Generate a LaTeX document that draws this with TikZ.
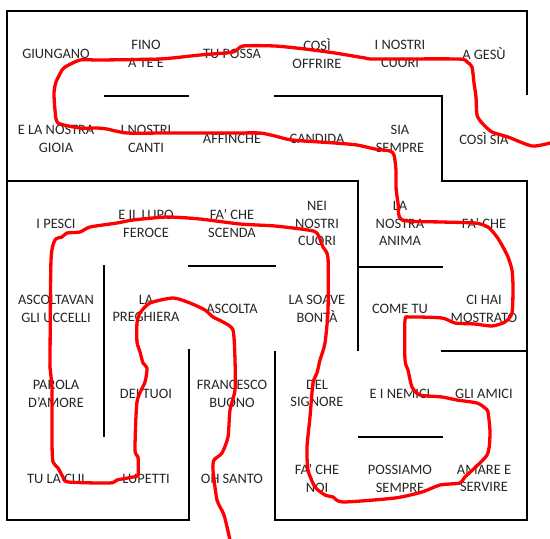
\documentclass[tikz,border=0pt]{standalone}
\usepackage{fontspec}
\setmainfont{Carlito}
\begin{document}
\begin{tikzpicture}[x=1pt,y=-1pt,
  wall/.style={line width=1.8pt, line cap=rect, black},
  route/.style={draw=red, line width=3.3pt, line join=round, line cap=round},
  word/.style={align=center, inner sep=0pt, font=\fontsize{14.4}{17.8}\selectfont, text=black!85}]
\useasboundingbox[fill=white] (0,0) rectangle (550,539);
% walls
\draw[wall] (527,94) -- (527,11) -- (7,11) -- (7,520) -- (189,520) -- (189,350);
\draw[wall] (275,352) -- (275,520) -- (527,520) -- (527,181) -- (442,181) -- (442,96) -- (275,96);
\draw[wall] (105,96) -- (188,96);
\draw[wall] (7,181) -- (358,181) -- (358,350);
\draw[wall] (104,266) -- (104,436);
\draw[wall] (189,266) -- (275,266);
\draw[wall] (358,267) -- (442,267);
\draw[wall] (442,351) -- (527,351);
\draw[wall] (359,437) -- (442,437);
% texts
\node[word] (c00) at (56,53.5) {GIUNGANO};
\node[word] (c01) at (146,53.5) {FINO\\A TE E};
\node[word] (c02) at (232,53.5) {TU POSSA};
\node[word] (c03) at (317,53.5) {COSÌ\\OFFRIRE};
\node[word] (c04) at (400,53.5) {I NOSTRI\\CUORI};
\node[word] (c05) at (484,53.5) {A GESÙ};
\node[word] (c10) at (56,138.5) {E LA NOSTRA\\GIOIA};
\node[word] (c11) at (146,138.5) {I NOSTRI\\CANTI};
\node[word] (c12) at (232,138.5) {AFFINCHE};
\node[word] (c13) at (317,138.5) {CANDIDA};
\node[word] (c14) at (400,138.5) {SIA\\SEMPRE};
\node[word] (c15) at (484,138.5) {COSÌ SIA};
\node[word] (c20) at (56,223.5) {I PESCI};
\node[word] (c21) at (146,223.5) {E IL LUPO\\FEROCE};
\node[word] (c22) at (232,223.5) {FA' CHE\\SCENDA};
\node[word] (c23) at (317,223.5) {NEI\\NOSTRI\\CUORI};
\node[word] (c24) at (400,223.5) {LA\\NOSTRA\\ANIMA};
\node[word] (c25) at (484,223.5) {FA' CHE};
\node[word] (c30) at (56,308.5) {ASCOLTAVAN\\GLI UCCELLI};
\node[word] (c31) at (146,308.5) {LA\\PREGHIERA};
\node[word] (c32) at (232,308.5) {ASCOLTA};
\node[word] (c33) at (317,308.5) {LA SOAVE\\BONTÀ};
\node[word] (c34) at (400,308.5) {COME TU};
\node[word] (c35) at (484,308.5) {CI HAI\\MOSTRATO};
\node[word] (c40) at (56,393.5) {PAROLA\\D’AMORE};
\node[word] (c41) at (146,393.5) {DEI TUOI};
\node[word] (c42) at (232,393.5) {FRANCESCO\\BUONO};
\node[word] (c43) at (317,393.5) {DEL\\SIGNORE};
\node[word] (c44) at (400,393.5) {E I NEMICI};
\node[word] (c45) at (484,393.5) {GLI AMICI};
\node[word] (c50) at (56,478.5) {TU LA CUI};
\node[word] (c51) at (146,478.5) {LUPETTI};
\node[word] (c52) at (232,478.5) {OH SANTO};
\node[word] (c53) at (317,478.5) {FA' CHE\\NOI};
\node[word] (c54) at (400,478.5) {POSSIAMO\\SEMPRE};
\node[word] (c55) at (484,478.5) {AMARE E\\SERVIRE};
% red route
\draw[route] plot[smooth, tension=0.4] coordinates {
(230,540) (224,515) (217,500) (213,470) (214,460) (222,453) (228,437) (230,410) (235,390) (235,360) (233,330) (223,322) (213,317) (205,310) (190,303) (173,298) (150,303) (140,313) (137,323) (137,342) (140,352) (143,363) (147,368) (145,382) (137,402) (135,450) (138,457) (138,475) (133,477) (117,480) (110,483) (68,482) (63,477) (58,468) (53,462) (52,443) (52,390) (50,367) (50,360) (51,260) (55,240) (62,237) (67,233) (80,232) (90,227) (117,223) (133,220) (167,217) (200,219) (240,224) (275,226) (308,230) (317,233) (323,247) (328,258) (328,310) (325,343) (320,360) (317,373) (313,383) (310,417) (307,447) (308,470) (315,487) (325,495) (333,497) (343,502) (395,498) (422,492) (440,485) (460,483) (465,477) (487,455) (490,433) (488,412) (485,408) (477,403) (457,400) (442,397) (420,395) (412,387) (408,370) (405,360) (405,320) (410,317) (442,318) (455,323) (475,324) (492,326) (505,322) (512,313) (513,287) (512,270) (508,257) (503,247) (497,237) (488,227) (475,223) (442,222) (402,220) (398,203) (396,187) (396,170) (394,155) (390,151) (375,149) (357,145) (335,143) (292,140) (275,136) (260,133) (233,133) (167,133) (127,133) (107,129) (97,128) (80,128) (58,123) (55,110) (54,93) (56,82) (62,70) (65,67) (80,60) (100,60) (160,59) (200,55) (233,52) (243,46) (275,46) (305,49) (335,53) (365,58) (375,59) (458,59) (467,62) (472,67) (474,83) (476,97) (477,115) (482,123) (492,132) (508,137) (532,146) (550,143)};
\end{tikzpicture}
\end{document}
